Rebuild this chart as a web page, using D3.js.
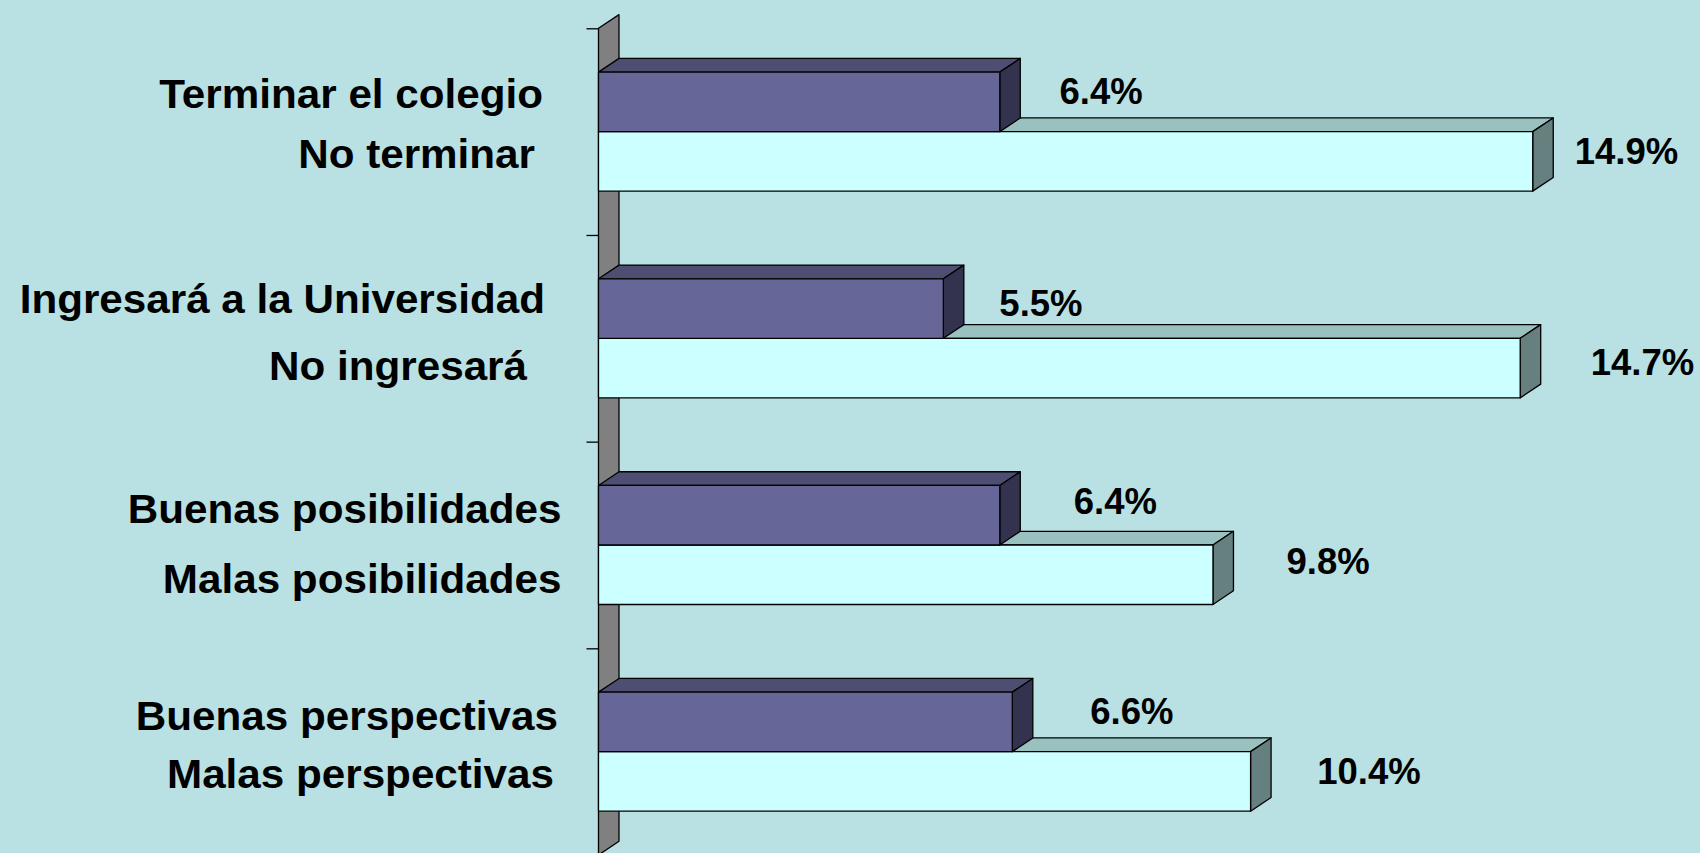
<!DOCTYPE html>
<html>
<head>
<meta charset="utf-8">
<script src="https://cdn.jsdelivr.net/npm/d3@7"></script>
<style>
  html, body { margin: 0; padding: 0; background: #b9e0e2; }
  svg { display: block; }
  text { font-family: "Liberation Sans", Arial, "DejaVu Sans", sans-serif; font-weight: bold; fill: #000; }
</style>
</head>
<body>
<svg id="chart" width="1700" height="853"></svg>
<script>
// ---- data -------------------------------------------------------------
const groups         = ["colegio", "universidad", "posibilidades", "perspectivas"];
const positiveLabels = ["Terminar el colegio", "Ingresará a la Universidad", "Buenas posibilidades", "Buenas perspectivas"];
const negativeLabels = ["No terminar", "No ingresará", "Malas posibilidades", "Malas perspectivas"];
const positiveValues = [6.4, 5.5, 6.4, 6.6];
const negativeValues = [14.9, 14.7, 9.8, 10.4];

// ---- layout ------------------------------------------------------------
const W = 1700, H = 853;
const plotLeft = 598.5, pxPerUnit = 62.7;
const plotTop = 28.3, plotBottom = 855;
const DX = 20.5, DY = 13.7;              // 3-D depth offset

// per-bar text placement (order: pos g1, neg g1, pos g2, neg g2, ...)
const nameRight  = [543, 535, 545, 527, 561.5, 561.5, 558, 554];
const nameDy     = [6.4, 6.9, 4, 12, 7.4, 18, 8, 6.6];
const valueDx    = [59.7, 42, 56, 70.5, 74, 73.5, 78, 66.7];
const valueDy    = [2.4, 2.6, 7, 6.5, -1.5, -1, 2, 3];

const colors = {
  pos: { front: "#666699", top: "#4e4e72", side: "#333350" },
  neg: { front: "#ccffff", top: "#99c1bf", side: "#668080" }
};

const svg = d3.select("#chart");

const x = d3.scaleLinear().domain([0, 16]).range([plotLeft, plotLeft + 16 * pxPerUnit]);
const y0 = d3.scaleBand().domain(d3.range(groups.length))
  .range([plotTop, plotBottom]).paddingInner(0.424).paddingOuter(0.212);
const y1 = d3.scaleBand().domain(["pos", "neg"]).range([0, y0.bandwidth()]);
const yBound = d3.scaleLinear().domain([0, groups.length]).range([plotTop, plotBottom]);

// ---- back wall (category axis) -----------------------------------------
svg.append("polygon")
  .attr("points", [
    [plotLeft, plotTop], [plotLeft + DX, plotTop - DY],
    [plotLeft + DX, plotBottom - DY], [plotLeft, plotBottom]
  ].map(p => p.join(",")).join(" "))
  .attr("fill", "#808080").attr("stroke", "#000").attr("stroke-width", 1.3)
  .attr("stroke-linejoin", "round");

const axis = svg.append("g")
  .attr("transform", `translate(${plotLeft},0)`)
  .call(d3.axisLeft(yBound).tickValues(d3.range(groups.length + 1)).tickFormat("").tickSize(12).tickSizeOuter(0));
axis.select(".domain").remove();
axis.selectAll(".tick line").attr("stroke", "#000").attr("stroke-width", 1.3);

// ---- bars --------------------------------------------------------------
const rows = [];
groups.forEach((g, i) => {
  rows.push({ gi: i, key: "pos", value: positiveValues[i], name: positiveLabels[i], idx: i * 2 });
  rows.push({ gi: i, key: "neg", value: negativeValues[i], name: negativeLabels[i], idx: i * 2 + 1 });
});

function poly(pts) { return pts.map(p => p.join(",")).join(" "); }

// draw the lower (negative) bar first so the upper bar overlaps its top face
const drawOrder = [];
groups.forEach((g, i) => { drawOrder.push(rows[i * 2 + 1], rows[i * 2]); });

const barG = svg.append("g");
drawOrder.forEach(d => {
  const x0 = x(0), x1 = x(d.value);
  const yt = y0(d.gi) + y1(d.key), h = y1.bandwidth();
  const c = colors[d.key];
  const g = barG.append("g")
    .attr("stroke", "#000").attr("stroke-width", 1.3).attr("stroke-linejoin", "round");
  g.append("polygon").attr("fill", c.top)
    .attr("points", poly([[x0, yt], [x0 + DX, yt - DY], [x1 + DX, yt - DY], [x1, yt]]));
  g.append("polygon").attr("fill", c.side)
    .attr("points", poly([[x1, yt], [x1 + DX, yt - DY], [x1 + DX, yt + h - DY], [x1, yt + h]]));
  g.append("rect").attr("fill", c.front)
    .attr("x", x0).attr("y", yt).attr("width", x1 - x0).attr("height", h);
});

// ---- category names ---------------------------------------------------
svg.append("g").selectAll("text").data(rows).join("text")
  .attr("transform", d => {
    const cy = y0(d.gi) + y1(d.key) + y1.bandwidth() / 2;
    return `translate(${nameRight[d.idx]},${cy + nameDy[d.idx]}) scale(1.055,1)`;
  })
  .attr("text-anchor", "end")
  .style("font-size", "40px")
  .text(d => d.name);

// ---- value labels -----------------------------------------------------
svg.append("g").selectAll("text").data(rows).join("text")
  .attr("x", d => x(d.value) + valueDx[d.idx])
  .attr("y", d => y0(d.gi) + y1(d.key) + y1.bandwidth() / 2 + valueDy[d.idx])
  .style("font-size", "36.5px")
  .text(d => d3.format(".1f")(d.value) + "%");
</script>
</body>
</html>
